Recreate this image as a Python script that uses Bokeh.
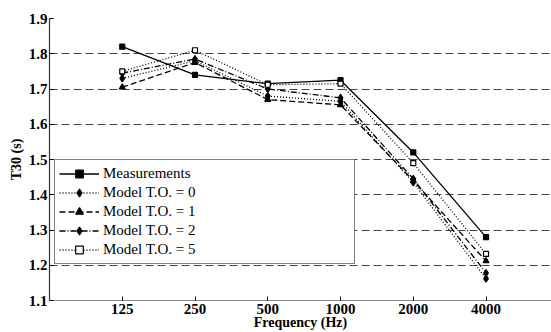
from bokeh.plotting import figure
from bokeh.models import FixedTicker, Legend, LegendItem, Range1d
from bokeh.embed import file_html
from bokeh.resources import INLINE

freqs = ["125", "250", "500", "1000", "2000", "4000"]
measurements = [1.82, 1.74, 1.715, 1.725, 1.52, 1.28]
model_to0 = [1.73, 1.78, 1.68, 1.665, 1.435, 1.162]
model_to1 = [1.705, 1.775, 1.67, 1.655, 1.44, 1.212]
model_to2 = [1.745, 1.785, 1.70, 1.675, 1.445, 1.178]
model_to5 = [1.75, 1.81, 1.712, 1.715, 1.49, 1.232]
yticks = [1.1, 1.2, 1.3, 1.4, 1.5, 1.6, 1.7, 1.8, 1.9]

xs = list(range(1, len(freqs) + 1))

FONT = "Liberation Serif"

p = figure(width=551, height=332, output_backend="svg", toolbar_location=None,
           x_range=Range1d(0, 6.9), y_range=Range1d(1.1, 1.9),
           min_border_left=49, min_border_right=0, min_border_top=18, min_border_bottom=29)
p.outline_line_color = None
p.background_fill_color = "white"
p.border_fill_color = "white"

# grid
p.xgrid.grid_line_color = None
p.ygrid.grid_line_color = "#444444"
p.ygrid.grid_line_dash = "8 4"
p.ygrid.grid_line_width = 1.2
p.ygrid.ticker = FixedTicker(ticks=yticks)

# axes
p.xaxis.ticker = FixedTicker(ticks=xs)
p.xaxis.major_label_overrides = {x: f for x, f in zip(xs, freqs)}
p.yaxis.ticker = FixedTicker(ticks=yticks)
p.yaxis.major_label_overrides = {t: f"{t:.1f}" for t in yticks}
for ax in (p.xaxis[0], p.yaxis[0]):
    ax.major_tick_in = 4
    ax.major_tick_out = 0
    ax.minor_tick_in = 0
    ax.minor_tick_out = 0
    ax.major_label_text_font = FONT
    ax.major_label_text_font_style = "bold"
    ax.major_label_text_font_size = "15px"
    ax.major_label_text_color = "black"
    ax.axis_label_text_font = FONT
    ax.axis_label_text_font_style = "bold"
    ax.axis_label_text_font_size = "14px"
    ax.axis_label_text_color = "black"
    ax.major_tick_line_color = "black"
p.xaxis.axis_line_color = "#888888"
p.yaxis.axis_line_color = "#333333"
p.yaxis.axis_line_width = 1.2
p.xaxis.axis_label = "Frequency (Hz)"
p.yaxis.axis_label = "T30 (s)"
p.xaxis.major_label_standoff = 3
p.yaxis.major_label_standoff = 2
p.xaxis.axis_label_standoff = -2
p.yaxis.axis_label_standoff = 2

series = [
    ("Measurements", measurements, "solid", "square", "black", 5),
    ("Model T.O. = 0", model_to0, "1 2", "diamond", "black", 7),
    ("Model T.O. = 1", model_to1, "6 3", "triangle", "black", 6),
    ("Model T.O. = 2", model_to2, "6 2 1 2", "diamond", "black", 7),
    ("Model T.O. = 5", model_to5, "1 2", "square", "white", 5),
]

items = []
for label, ys, dash, marker, fill, size in series:
    ln = p.line(xs, ys, line_color="black", line_width=1.3, line_dash=dash)
    sc = p.scatter(xs, ys, marker=marker, size=size, fill_color=fill,
                   line_color="black", line_width=1.2)
    items.append(LegendItem(label=label, renderers=[ln, sc]))

legend = Legend(items=items, location=(5, 36), margin=0,
                label_text_font=FONT, label_text_font_size="15px",
                label_text_color="black",
                glyph_width=40, glyph_height=19, label_height=19,
                label_width=247, spacing=0, padding=4, label_standoff=4,
                border_line_color="black", border_line_width=1.5,
                background_fill_color="white", background_fill_alpha=1.0)
p.add_layout(legend)

open("out.html", "w").write(file_html(p, INLINE))
